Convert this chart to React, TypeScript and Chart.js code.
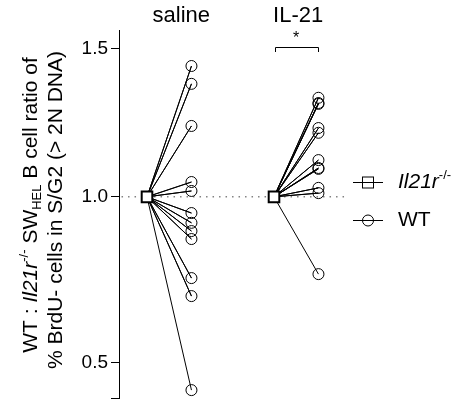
import React, { useEffect, useRef } from 'react';
import { Chart, LinearScale, ScatterController, registerables } from 'chart.js';

// ---- data ----
const groups = ['saline', 'IL-21'];
const koValues = [1.0, 1.0]; // Il21r-/- normalised reference
const salineWT = [1.44, 1.378, 1.234, 1.048, 1.019, 0.948, 0.917, 0.891, 0.866, 0.746, 0.692, 0.426];
const il21WT = [1.33, 1.312, 1.309, 1.227, 1.211, 1.12, 1.094, 1.091, 1.029, 1.012, 0.758];
const wtSeries = [salineWT, il21WT];
const yTicks = [0.5, 1.0, 1.5];
const yMin = 0.405;
const yMax = 1.567;
const significance = ['', '*'];

// ---- style constants ----
const EXP = 0.78;
const OFFSET = 0.35;
const LABEL_DX = [0.27, 0.19];
const X_MIN = 0.7795;
const X_MAX = 2.559;
const FONT = '"Liberation Sans", Arial, Helvetica, sans-serif';

class PowerScale extends LinearScale {
  static id = 'power';
  static defaults = LinearScale.defaults;
  getPixelForValue(value: number) {
    const a = Math.pow(this.min, EXP);
    const b = Math.pow(this.max, EXP);
    return this.getPixelForDecimal((Math.pow(value, EXP) - a) / (b - a));
  }
  getValueForPixel(pixel: number) {
    const a = Math.pow(this.min, EXP);
    const b = Math.pow(this.max, EXP);
    return Math.pow(a + this.getDecimalForPixel(pixel) * (b - a), 1 / EXP);
  }
}

class TightScatter extends ScatterController {
  static id = 'tightScatter';
  static defaults = ScatterController.defaults;
  static overrides = ScatterController.overrides;
  getMaxOverflow() {
    return 0;
  }
}

Chart.register(...registerables, PowerScale, TightScatter);

type Run = { text: string; font: string; dy?: number };

function drawRuns(ctx: CanvasRenderingContext2D, runs: Run[], x: number, y: number, align: 'center' | 'left') {
  let total = 0;
  for (const r of runs) {
    ctx.font = r.font;
    total += ctx.measureText(r.text).width;
  }
  let cx = align === 'center' ? x - total / 2 : x;
  ctx.textAlign = 'left';
  ctx.textBaseline = 'middle';
  for (const r of runs) {
    ctx.font = r.font;
    ctx.fillText(r.text, cx, y + (r.dy || 0));
    cx += ctx.measureText(r.text).width;
  }
}

const decorPlugin = {
  id: 'decor',
  afterDraw(chart: any) {
    const ctx: CanvasRenderingContext2D = chart.ctx;
    const xs = chart.scales.x;
    const base = `21px ${FONT}`;
    const ital = `italic 21px ${FONT}`;
    const small = `13px ${FONT}`;
    ctx.save();
    ctx.fillStyle = '#000';
    ctx.strokeStyle = '#000';

    // group labels, brackets
    groups.forEach((g, i) => {
      const px = xs.getPixelForValue(i + 1 + LABEL_DX[i]);
      drawRuns(ctx, [{ text: g, font: `22px ${FONT}` }], px, 16, 'center');
      if (significance[i]) {
        const x0 = xs.getPixelForValue(i + 1);
        const x1 = xs.getPixelForValue(i + 1 + OFFSET);
        ctx.lineWidth = 1;
        ctx.beginPath();
        ctx.moveTo(Math.round(x0) + 1.5, 52);
        ctx.lineTo(Math.round(x0) + 1.5, 47.5);
        ctx.lineTo(Math.round(x1) + 0.5, 47.5);
        ctx.lineTo(Math.round(x1) + 0.5, 52);
        ctx.stroke();
        drawRuns(ctx, [{ text: significance[i], font: `16px ${FONT}` }], (x0 + x1) / 2, 39, 'center');
      }
    });

    // y title
    const line1: Run[] = [
      { text: 'WT : ', font: base },
      { text: 'Il21r', font: ital },
      { text: '-/-', font: small, dy: -7 },
      { text: ' SW', font: base },
      { text: 'HEL', font: small, dy: 6 },
      { text: ' B cell ratio of', font: base },
    ];
    const line2: Run[] = [{ text: '% BrdU- cells in S/G2 (> 2N DNA)', font: base }];
    ctx.save();
    ctx.translate(31, 205);
    ctx.rotate(-Math.PI / 2);
    drawRuns(ctx, line1, 0, 0, 'center');
    ctx.restore();
    ctx.save();
    ctx.translate(56, 210);
    ctx.rotate(-Math.PI / 2);
    drawRuns(ctx, line2, 0, 0, 'center');
    ctx.restore();

    // legend
    const lx0 = 353, lx1 = 383, lxc = 368;
    const rows = [182, 220];
    ctx.lineWidth = 1;
    rows.forEach((ry) => {
      ctx.beginPath();
      ctx.moveTo(lx0, ry + 0.5);
      ctx.lineTo(lx1, ry + 0.5);
      ctx.stroke();
    });
    ctx.strokeRect(lxc - 5.5, rows[0] - 5, 11, 11);
    ctx.beginPath();
    ctx.arc(lxc, rows[1] + 0.5, 5.5, 0, Math.PI * 2);
    ctx.stroke();
    drawRuns(ctx, [{ text: 'Il21r', font: ital }, { text: '-/-', font: small, dy: -7 }], 398, rows[0], 'left');
    drawRuns(ctx, [{ text: 'WT', font: base }], 398, rows[1], 'left');
    ctx.restore();
  },
};

export default function App() {
  const ref = useRef<HTMLCanvasElement>(null);
  useEffect(() => {
    document.body.style.margin = '0';
    const datasets: any[] = [];
    // KO squares
    datasets.push({
      type: 'tightScatter',
      data: koValues.map((v, i) => ({ x: i + 1, y: v })),
      pointStyle: 'rect',
      pointRadius: 7.5,
      pointHoverRadius: 0,
      pointBorderWidth: 2,
      pointBorderColor: '#000',
      pointBackgroundColor: '#fff',
      clip: false,
    });
    // WT circles
    wtSeries.forEach((vals, i) => {
      datasets.push({
        type: 'tightScatter',
        data: vals.map((v) => ({ x: i + 1 + OFFSET, y: v })),
        pointStyle: 'circle',
        pointRadius: 5.5,
        pointHoverRadius: 0,
        pointBorderWidth: 1,
        pointBorderColor: '#000',
        pointBackgroundColor: 'rgba(0,0,0,0)',
        clip: false,
      });
    });
    // connecting lines
    wtSeries.forEach((vals, i) => {
      datasets.push({
        type: 'line',
        data: vals.flatMap((v) => [
          { x: i + 1, y: koValues[i] },
          { x: i + 1 + OFFSET, y: v },
        ]),
        borderColor: '#000',
        borderWidth: 1,
        pointRadius: 0,
        pointHoverRadius: 0,
        fill: false,
        tension: 0,
        clip: false,
      });
    });
    // dotted reference line
    datasets.push({
      type: 'line',
      data: [
        { x: X_MIN + 0.02, y: 1 },
        { x: X_MAX, y: 1 },
      ],
      borderColor: '#444',
      borderWidth: 1,
      borderDash: [1.5, 5],
      pointRadius: 0,
      pointHoverRadius: 0,
      fill: false,
    });

    const chart = new Chart(ref.current!, {
      type: 'scatter',
      data: { datasets },
      options: {
        animation: false,
        responsive: true,
        maintainAspectRatio: false,
        layout: { padding: { left: 0, top: 30, right: 120, bottom: 2 } },
        plugins: { legend: { display: false }, tooltip: { enabled: false } },
        scales: {
          x: { type: 'linear', min: X_MIN, max: X_MAX, display: false },
          y: {
            type: 'power' as any,
            min: yMin,
            max: yMax,
            afterBuildTicks: (s: any) => {
              s.ticks = [yMin, ...yTicks].map((v) => ({ value: v }));
            },
            afterFit: (s: any) => {
              s.width = 119;
              s.paddingTop = 0;
              s.paddingBottom = 0;
            },
            ticks: {
              color: '#000',
              font: { family: FONT, size: 19 },
              padding: 3,
              callback: (v: any) => (v === yMin ? '' : Number(v).toFixed(1)),
            },
            grid: { drawOnChartArea: false, drawTicks: true, tickLength: 8, color: '#000', lineWidth: 1 },
            border: { display: true, color: '#000', width: 1 },
          },
        },
      },
      plugins: [decorPlugin],
    });
    return () => chart.destroy();
  }, []);
  return (
    <div style={{ width: 465, height: 400, position: 'relative' }}>
      <canvas ref={ref} />
    </div>
  );
}
